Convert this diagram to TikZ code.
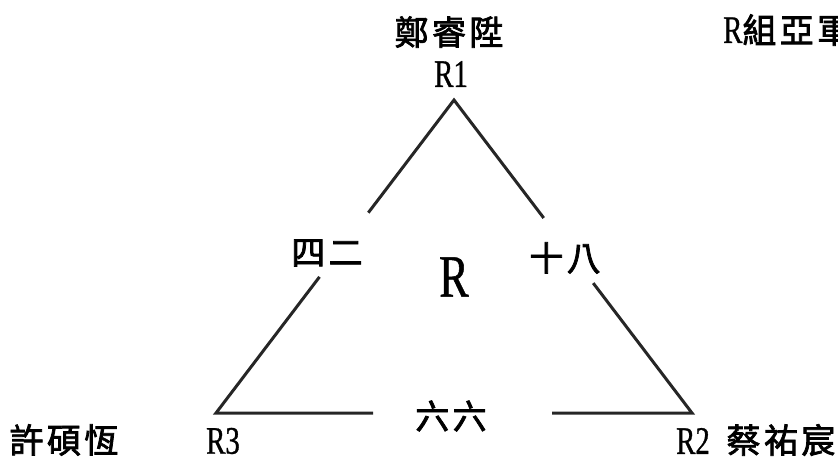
\documentclass[tikz,border=0pt]{standalone}
\usepackage{fontspec}
\setmainfont{Liberation Serif}[FakeStretch=0.74, FakeBold=0.8]
\newfontfamily\cjk{Noto Sans CJK TC}[LetterSpace=10, FakeBold=2.2]
\usetikzlibrary{calc}
\tikzset{
  tri/.style={line width=3pt, black!85},
  player/.style={font=\cjk\fontsize{34}{40}\selectfont, inner sep=0pt},
  seedlbl/.style={font=\fontsize{39}{44}\selectfont, inner sep=0pt},
  score/.style={font=\cjk\fontsize{34}{40}\selectfont, inner sep=0pt}
}

\begin{document}
\begin{tikzpicture}[x=1pt,y=-1pt]
  \useasboundingbox (0,0) rectangle (838,461);
  % 三个顶点
  \coordinate (R1) at (454,100);
  \coordinate (R2) at (692,413);
  \coordinate (R3) at (216,413);
  % 断开处
  \coordinate (a1) at ($(R1)!0.36!(R3)$);
  \coordinate (a2) at ($(R1)!0.565!(R3)$);
  \coordinate (b1) at ($(R1)!0.377!(R2)$);
  \coordinate (b2) at ($(R1)!0.585!(R2)$);
  \coordinate (c1) at ($(R3)!0.33!(R2)$);
  \coordinate (c2) at ($(R3)!0.706!(R2)$);

  % 三边
  \draw[tri] (a1) -- (R1) -- (b1);
  \draw[tri] (b2) -- (R2) -- (c2);
  \draw[tri] (c1) -- (R3) -- (a2);

  % 种子
  \node[seedlbl] (t1) at (451,74) {R1};
  \node[seedlbl] (t2) at (693,441) {R2};
  \node[seedlbl] (t3) at (223,441) {R3};
  % 选手
  \node[player] (p1) at (449,32) {鄭睿陞};
  \node[player] (p2) at (781,440) {蔡祐宸};
  \node[player] (p3) at (64,440) {許碩恆};
  \node[player, anchor=west] (grp0) at (723,30) {{\rmfamily\fontsize{39}{44}\selectfont R}組亞軍};
  % 比分
  \node[score] (s13) at (327,253) {四二};
  \node[score] (s12) at (565,258) {十八};
  \node[score] (s23) at (451,416) {六六};
  \node[font=\fontsize{60}{66}\selectfont, inner sep=0pt] (grp) at (454,277) {R};
\end{tikzpicture}
\end{document}
